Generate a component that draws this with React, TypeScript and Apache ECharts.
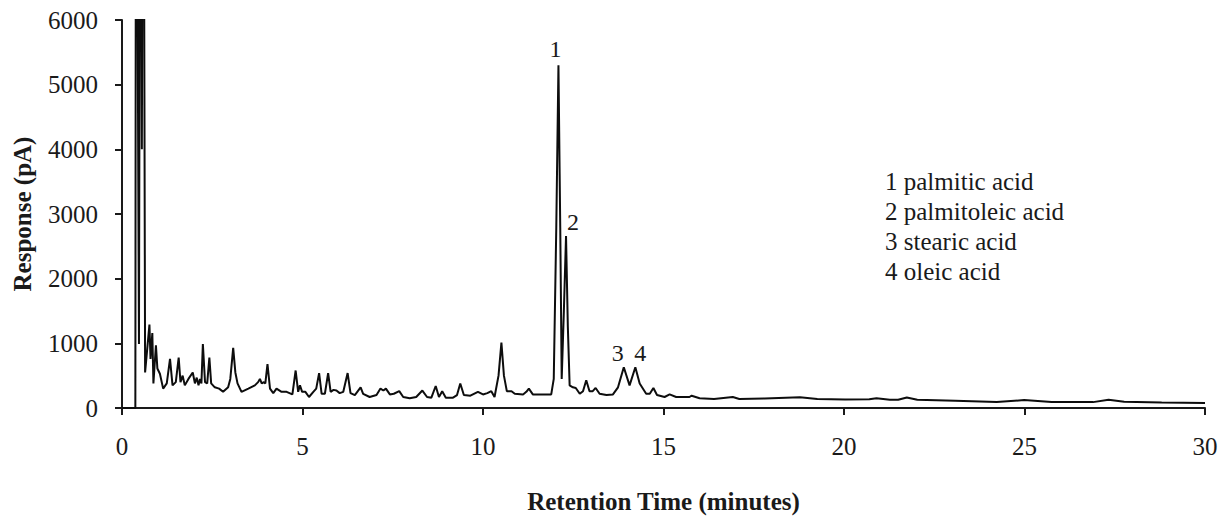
import React, { useEffect, useRef } from "react";
import * as echarts from "echarts";

// Retention time (minutes) and detector response (pA)
const times: number[] = [
  0, 0.37, 0.39, 0.47, 0.51, 0.55, 0.59, 0.64, 0.76, 0.79, 0.84, 0.87, 0.94, 0.98, 1.05, 1.14, 1.24, 1.33, 1.4, 1.49,
  1.57, 1.62, 1.68, 1.74, 1.84, 1.96, 2.02, 2.07, 2.12, 2.16, 2.2, 2.24, 2.3, 2.36, 2.42, 2.47, 2.57, 2.69, 2.8, 2.94,
  3.0, 3.08, 3.14, 3.2, 3.31, 3.5, 3.68, 3.77, 3.82, 3.87, 3.93, 3.97, 4.03, 4.1, 4.19, 4.28, 4.42, 4.56, 4.72, 4.81,
  4.88, 4.93, 4.99, 5.08, 5.18, 5.3, 5.38, 5.46, 5.53, 5.62, 5.71, 5.78, 5.86, 5.94, 6.03, 6.13, 6.25, 6.33, 6.45, 6.61,
  6.68, 6.86, 7.05, 7.16, 7.24, 7.31, 7.42, 7.53, 7.68, 7.79, 7.97, 8.15, 8.32, 8.45, 8.57, 8.69, 8.78, 8.87, 8.97, 9.17,
  9.28, 9.37, 9.47, 9.65, 9.86, 10.0, 10.12, 10.23, 10.32, 10.43, 10.51, 10.58, 10.66, 10.79, 10.88, 11.11, 11.2, 11.27, 11.38, 11.65,
  11.89, 11.96, 12.03, 12.09, 12.14, 12.18, 12.24, 12.3, 12.35, 12.4, 12.49, 12.57, 12.68, 12.77, 12.86, 12.95, 13.04, 13.12, 13.23, 13.42,
  13.6, 13.74, 13.9, 14.06, 14.22, 14.34, 14.52, 14.62, 14.72, 14.82, 15.03, 15.17, 15.35, 15.72, 15.78, 16.0, 16.4, 16.92, 17.1, 17.8,
  18.78, 19.26, 20.03, 20.7, 20.9, 21.27, 21.5, 21.74, 22.03, 23.08, 24.23, 24.99, 25.75, 26.9, 27.33, 27.76, 28.8, 30.0,
];
const responses: number[] = [
  0, 0, 12000, 990, 12000, 4000, 12000, 550, 1290, 760, 1160, 380, 970, 610, 530, 300, 380, 760, 350, 400,
  780, 400, 500, 350, 450, 550, 380, 470, 350, 450, 380, 990, 400, 380, 780, 380, 320, 300, 250, 320,
  450, 930, 550, 380, 250, 300, 350, 400, 450, 380, 400, 380, 680, 300, 230, 300, 250, 250, 210, 580,
  250, 350, 250, 250, 170, 250, 300, 540, 220, 220, 540, 250, 280, 270, 230, 250, 540, 230, 200, 320,
  220, 170, 200, 300, 270, 300, 210, 220, 260, 170, 150, 170, 270, 170, 160, 340, 170, 260, 160, 160,
  200, 380, 200, 190, 250, 210, 230, 260, 170, 500, 1010, 500, 260, 260, 220, 210, 250, 300, 210, 210,
  210, 450, 2790, 5300, 2790, 450, 1500, 2660, 1260, 350, 320, 310, 220, 260, 430, 260, 260, 310, 220, 200,
  210, 320, 630, 350, 630, 380, 220, 220, 310, 200, 170, 210, 170, 170, 190, 150, 140, 170, 140, 147,
  167, 140, 132, 137, 152, 127, 127, 162, 127, 112, 91, 122, 91, 91, 127, 96, 86, 76,
];

// Peak annotations
const peakNumbers: string[] = ["1", "2", "3", "4"];
const peakTimes: number[] = [12.09, 12.3, 13.9, 14.22];
const peakHeights: number[] = [5300, 2660, 630, 630];
const compounds: string[] = ["palmitic acid", "palmitoleic acid", "stearic acid", "oleic acid"];

// Axis ticks
const yTicks: number[] = [0, 1000, 2000, 3000, 4000, 5000, 6000];
const xTicks: number[] = [0, 5, 10, 15, 20, 25, 30];

const FONT = "'Liberation Serif', 'Times New Roman', serif";
const INK = "#1a1a1a";

export default function App() {
  const ref = useRef<HTMLDivElement>(null);

  useEffect(() => {
    if (!ref.current) return;
    const chart = echarts.init(ref.current, undefined, { renderer: "svg" });
    const data = times.map((t, i) => [t, responses[i]]);
    const labelOffsets: number[][] = [[-3, 0], [7, 2], [-6, 2], [5, 2]];

    chart.setOption({
      animation: false,
      backgroundColor: "#ffffff",
      grid: { left: 122, right: 17, top: 20, bottom: 105, containLabel: false },
      xAxis: {
        type: "value",
        min: xTicks[0],
        max: xTicks[xTicks.length - 1],
        interval: 5,
        name: "Retention Time (minutes)",
        nameLocation: "middle",
        nameGap: 81,
        nameTextStyle: { fontFamily: FONT, fontWeight: "bold", fontSize: 25, color: INK },
        axisLine: { show: true, lineStyle: { color: INK, width: 2 } },
        axisTick: { show: true, inside: false, length: 7, lineStyle: { color: INK, width: 2 } },
        axisLabel: { fontFamily: FONT, fontSize: 25, color: INK, margin: 26 },
        splitLine: { show: false },
      },
      yAxis: {
        type: "value",
        min: yTicks[0],
        max: yTicks[yTicks.length - 1],
        interval: 1000,
        name: "Response (pA)",
        nameLocation: "middle",
        nameGap: 87,
        nameRotate: 90,
        nameTextStyle: { fontFamily: FONT, fontWeight: "bold", fontSize: 25, color: INK },
        axisLine: { show: true, lineStyle: { color: INK, width: 2 } },
        axisTick: { show: true, inside: false, length: 7, lineStyle: { color: INK, width: 2 } },
        axisLabel: { fontFamily: FONT, fontSize: 25, color: INK, margin: 24, formatter: (v: number) => String(v) },
        splitLine: { show: false },
      },
      series: [
        {
          type: "line",
          data,
          showSymbol: false,
          symbol: "none",
          clip: true,
          lineStyle: { color: "#0d0d0d", width: 2 },
          markPoint: {
            symbol: "circle",
            symbolSize: 0,
            data: peakNumbers.map((n, i) => ({
              coord: [peakTimes[i], peakHeights[i]],
              value: n,
              label: {
                show: true,
                position: "top",
                distance: 4,
                offset: labelOffsets[i],
                formatter: n,
                fontFamily: FONT,
                fontSize: 24,
                color: INK,
              },
            })),
          },
        },
      ],
      graphic: [
        {
          type: "text",
          left: 885,
          top: 166,
          style: {
            text: compounds.map((c, i) => `${peakNumbers[i]} ${c}`).join("\n"),
            font: `25px ${FONT}`,
            lineHeight: 30,
            fill: INK,
          },
        },
      ],
    });

    return () => chart.dispose();
  }, []);

  return <div ref={ref} style={{ position: "fixed", left: 0, top: 0, width: 1222, height: 519 }} />;
}
